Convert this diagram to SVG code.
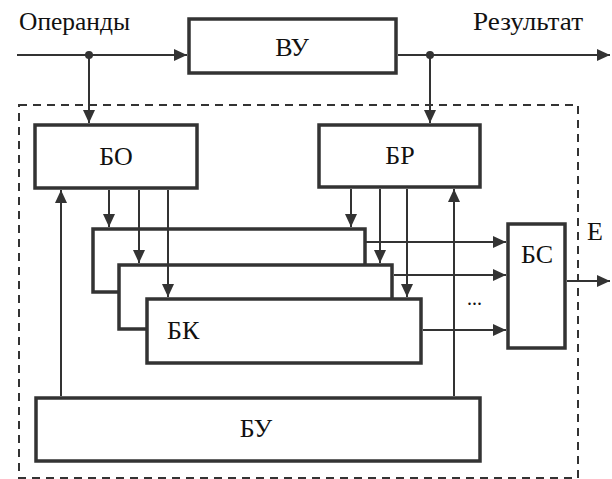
<svg xmlns="http://www.w3.org/2000/svg" width="612" height="479" viewBox="0 0 612 479">
<style>
.box{fill:#fff;stroke:#333;stroke-width:3.5}
.ln{fill:none;stroke:#333;stroke-width:2}
.dash{fill:none;stroke:#333;stroke-width:2;stroke-dasharray:8 6}
.t{font-family:"Liberation Serif","Times New Roman",serif;font-size:26px;fill:#111}
.c{text-anchor:middle}
</style>
<defs>
<marker id="ah" markerUnits="userSpaceOnUse" markerWidth="14" markerHeight="12" refX="13" refY="6" orient="auto">
<path d="M0,0 L13,6 L0,12 Z" fill="#333"/>
</marker>
</defs>
<rect class="dash" x="19" y="105" width="559" height="373"/>
<text class="t" x="19" y="30" textLength="111" lengthAdjust="spacingAndGlyphs">Операнды</text>
<text class="t" x="473" y="30" textLength="110" lengthAdjust="spacingAndGlyphs">Результат</text>
<text class="t" x="587" y="240">Е</text>
<text class="t" x="467" y="305" style="font-size:20px">...</text>
<g id="VU"><rect class="box" x="189" y="19" width="207" height="54"/><text class="t c" x="292" y="56">ВУ</text></g>
<g id="BO"><rect class="box" x="35" y="125" width="162" height="63"/><text class="t c" x="116" y="165">БО</text></g>
<g id="BR"><rect class="box" x="319" y="125" width="161" height="62"/><text class="t c" x="400" y="164">БР</text></g>
<g id="BK1"><rect class="box" x="93" y="229" width="272" height="63"/></g>
<g id="BK2"><rect class="box" x="119" y="265" width="273" height="64"/></g>
<g id="BK3"><rect class="box" x="147" y="299" width="274" height="64"/><text class="t" x="167" y="339">БК</text></g>
<g id="BS"><rect class="box" x="508" y="224" width="57" height="124"/><text class="t c" x="537" y="263">БС</text></g>
<g id="BU"><rect class="box" x="36" y="398" width="444" height="63"/><text class="t c" x="256" y="437">БУ</text></g>
<g id="connectors">
<path class="ln" d="M17,55 H187" marker-end="url(#ah)"/>
<path class="ln" d="M398,55 H610" marker-end="url(#ah)"/>
<circle cx="89" cy="55" r="4" fill="#333"/>
<circle cx="430" cy="55" r="4" fill="#333"/>
<path class="ln" d="M89,55 V123" marker-end="url(#ah)"/>
<path class="ln" d="M430,55 V123" marker-end="url(#ah)"/>
<path class="ln" d="M109,190 V227" marker-end="url(#ah)"/>
<path class="ln" d="M139,190 V263" marker-end="url(#ah)"/>
<path class="ln" d="M168,190 V297" marker-end="url(#ah)"/>
<path class="ln" d="M351,189 V227" marker-end="url(#ah)"/>
<path class="ln" d="M380,189 V263" marker-end="url(#ah)"/>
<path class="ln" d="M407,189 V297" marker-end="url(#ah)"/>
<path class="ln" d="M61,396 V190" marker-end="url(#ah)"/>
<path class="ln" d="M454,396 V189" marker-end="url(#ah)"/>
<path class="ln" d="M365,242 H506" marker-end="url(#ah)"/>
<path class="ln" d="M394,275 H506" marker-end="url(#ah)"/>
<path class="ln" d="M423,330 H506" marker-end="url(#ah)"/>
<path class="ln" d="M567,281 H610" marker-end="url(#ah)"/>
</g>
</svg>
